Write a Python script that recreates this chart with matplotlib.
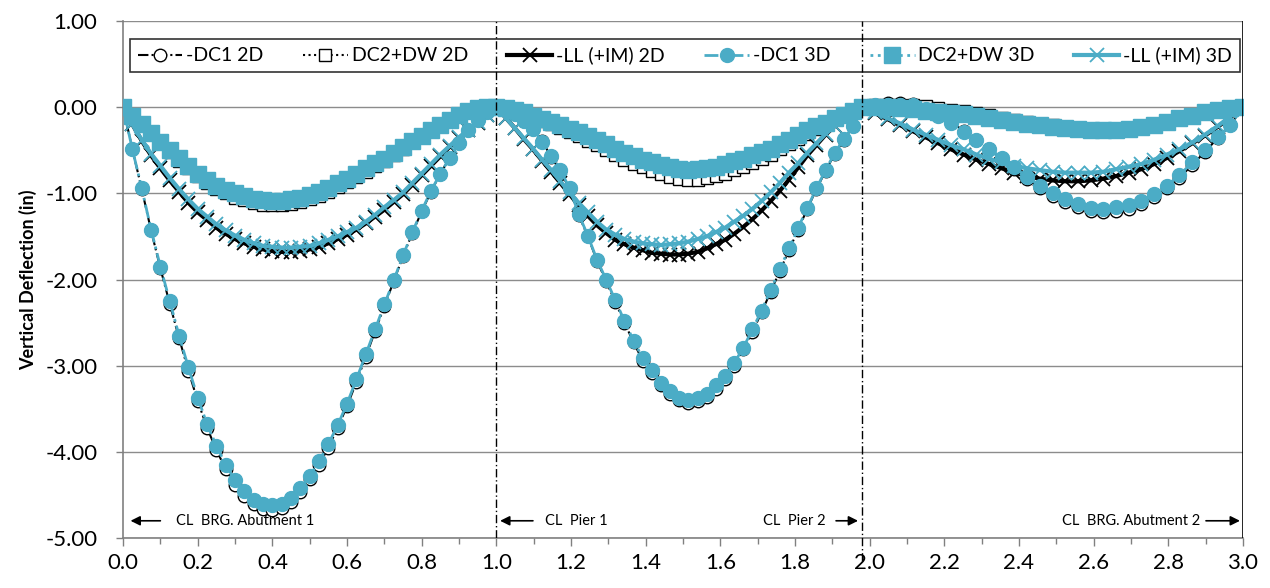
import numpy as np
import matplotlib
matplotlib.use("Agg")
import matplotlib.pyplot as plt

plt.rcParams['font.family'] = ['Lato', 'DejaVu Sans']

TEAL = "#4BACC6"

# stations along the bridge (normalized span length)
x_span1 = np.linspace(0.0, 1.0, 41)
x_span2 = np.linspace(1.0, 1.98, 41)[1:]
x_span3 = np.linspace(1.98, 3.0, 31)[1:]
x_sta = np.concatenate([x_span1, x_span2, x_span3])

# DC1 deflection (in)
dc1_2d = ([0, -0.49, -0.95, -1.43, -1.87, -2.28, -2.68, -3.06, -3.41, -3.72, -3.98, -4.20, -4.38, -4.51,
           -4.61, -4.66, -4.67, -4.65, -4.58, -4.47, -4.32, -4.15, -3.95, -3.72, -3.47, -3.19, -2.90,
           -2.60, -2.31, -2.02, -1.73, -1.46, -1.21, -0.98, -0.77, -0.59, -0.42, -0.27, -0.15, -0.06, 0]
          + [-0.03, -0.08, -0.16, -0.25, -0.39, -0.58, -0.74, -0.95, -1.25, -1.50, -1.78, -2.02, -2.26,
             -2.50, -2.73, -2.94, -3.08, -3.23, -3.33, -3.40, -3.43, -3.41, -3.36, -3.27, -3.15, -3.00,
             -2.81, -2.61, -2.38, -2.14, -1.90, -1.66, -1.42, -1.18, -0.95, -0.74, -0.54, -0.38, -0.22, 0.0]
          + [0.03, 0.05, 0.05, 0.04, 0.00, -0.08, -0.17, -0.28, -0.38, -0.49, -0.60, -0.72, -0.83, -0.94,
             -1.03, -1.10, -1.16, -1.20, -1.22, -1.21, -1.18, -1.12, -1.04, -0.94, -0.82, -0.67, -0.52,
             -0.36, -0.21, 0.0])
dc1_3d = ([0, -0.49, -0.94, -1.42, -1.85, -2.25, -2.65, -3.02, -3.37, -3.68, -3.93, -4.15, -4.33, -4.46,
           -4.56, -4.61, -4.62, -4.60, -4.53, -4.42, -4.28, -4.11, -3.91, -3.69, -3.44, -3.16, -2.87,
           -2.58, -2.29, -2.01, -1.72, -1.45, -1.20, -0.97, -0.77, -0.59, -0.42, -0.27, -0.15, -0.06, 0]
          + [-0.03, -0.08, -0.16, -0.25, -0.40, -0.57, -0.73, -0.94, -1.24, -1.49, -1.77, -2.00, -2.24,
             -2.48, -2.71, -2.91, -3.05, -3.20, -3.29, -3.37, -3.40, -3.38, -3.33, -3.23, -3.12, -2.97,
             -2.79, -2.58, -2.36, -2.12, -1.88, -1.64, -1.40, -1.17, -0.94, -0.73, -0.53, -0.37, -0.22, 0.0]
          + [0.02, 0.03, 0.03, 0.02, -0.02, -0.10, -0.18, -0.29, -0.38, -0.48, -0.59, -0.70, -0.81, -0.91,
             -1.00, -1.07, -1.12, -1.17, -1.18, -1.16, -1.14, -1.09, -1.01, -0.91, -0.79, -0.64, -0.50,
             -0.35, -0.21, 0.0])

# DC2+DW deflection (in)
dc2_2d = ([0, -0.10, -0.21, -0.31, -0.42, -0.52, -0.62, -0.71, -0.80, -0.88, -0.95, -1.00, -1.05, -1.08,
           -1.11, -1.13, -1.14, -1.14, -1.12, -1.10, -1.07, -1.03, -0.98, -0.93, -0.87, -0.81, -0.75,
           -0.68, -0.62, -0.55, -0.48, -0.41, -0.34, -0.28, -0.22, -0.16, -0.10, -0.05, -0.02, 0.0, 0.0]
          + [-0.01, -0.03, -0.07, -0.11, -0.16, -0.20, -0.24, -0.29, -0.34, -0.39, -0.44, -0.50, -0.56,
             -0.61, -0.66, -0.70, -0.74, -0.78, -0.81, -0.83, -0.84, -0.84, -0.82, -0.80, -0.77, -0.73,
             -0.69, -0.65, -0.60, -0.55, -0.49, -0.43, -0.37, -0.31, -0.25, -0.20, -0.14, -0.09, -0.04, 0.0]
          + [0.02, 0.03, 0.03, 0.02, 0.01, -0.01, -0.03, -0.05, -0.07, -0.09, -0.12, -0.15, -0.17, -0.19,
             -0.21, -0.23, -0.24, -0.25, -0.25, -0.25, -0.24, -0.22, -0.20, -0.17, -0.13, -0.10, -0.06,
             -0.03, -0.01, 0.0])
dc2_3d = ([0, -0.10, -0.20, -0.30, -0.40, -0.50, -0.59, -0.68, -0.77, -0.84, -0.91, -0.96, -1.00, -1.03,
           -1.06, -1.08, -1.09, -1.09, -1.07, -1.05, -1.02, -0.98, -0.94, -0.88, -0.83, -0.77, -0.71,
           -0.65, -0.60, -0.53, -0.46, -0.39, -0.33, -0.27, -0.21, -0.15, -0.09, -0.04, -0.01, 0.0, 0.0]
          + [-0.01, -0.03, -0.06, -0.10, -0.14, -0.17, -0.21, -0.25, -0.29, -0.33, -0.38, -0.43, -0.48,
             -0.53, -0.57, -0.61, -0.64, -0.67, -0.70, -0.72, -0.73, -0.72, -0.71, -0.69, -0.66, -0.63,
             -0.60, -0.56, -0.52, -0.48, -0.43, -0.38, -0.32, -0.27, -0.22, -0.18, -0.13, -0.09, -0.04, 0.0]
          + [0.0, 0.0, -0.01, -0.02, -0.04, -0.06, -0.07, -0.08, -0.10, -0.12, -0.15, -0.17, -0.19, -0.21,
             -0.23, -0.24, -0.25, -0.26, -0.26, -0.26, -0.25, -0.23, -0.21, -0.17, -0.13, -0.10, -0.06,
             -0.03, -0.01, 0.0])

# LL (+IM) deflection (in)
ll_2d = ([0, -0.20, -0.39, -0.56, -0.71, -0.85, -0.98, -1.11, -1.22, -1.31, -1.40, -1.47, -1.53, -1.58,
          -1.62, -1.65, -1.67, -1.68, -1.68, -1.67, -1.65, -1.62, -1.58, -1.53, -1.48, -1.42, -1.35,
          -1.27, -1.19, -1.10, -1.01, -0.90, -0.79, -0.68, -0.57, -0.46, -0.36, -0.27, -0.18, -0.09, 0]
         + [-0.12, -0.24, -0.37, -0.49, -0.62, -0.75, -0.88, -1.01, -1.14, -1.26, -1.37, -1.46, -1.54,
            -1.59, -1.63, -1.66, -1.69, -1.70, -1.71, -1.71, -1.70, -1.68, -1.64, -1.59, -1.54, -1.47,
            -1.39, -1.30, -1.20, -1.09, -0.97, -0.84, -0.70, -0.56, -0.44, -0.32, -0.22, -0.13, -0.06, 0]
         + [-0.07, -0.14, -0.21, -0.28, -0.35, -0.42, -0.49, -0.55, -0.61, -0.66, -0.71, -0.76, -0.80,
            -0.83, -0.85, -0.86, -0.86, -0.85, -0.83, -0.80, -0.76, -0.72, -0.66, -0.59, -0.51, -0.42,
            -0.33, -0.23, -0.12, 0])
ll_3d = ([0, -0.20, -0.38, -0.54, -0.68, -0.82, -0.95, -1.07, -1.18, -1.27, -1.36, -1.43, -1.49, -1.54,
          -1.58, -1.61, -1.62, -1.63, -1.63, -1.62, -1.61, -1.58, -1.54, -1.50, -1.45, -1.40, -1.33,
          -1.25, -1.16, -1.08, -0.99, -0.88, -0.77, -0.66, -0.55, -0.45, -0.35, -0.26, -0.17, -0.09, 0]
         + [-0.12, -0.24, -0.36, -0.48, -0.61, -0.73, -0.86, -0.99, -1.11, -1.22, -1.33, -1.42, -1.48,
            -1.53, -1.56, -1.58, -1.59, -1.60, -1.59, -1.58, -1.56, -1.53, -1.50, -1.45, -1.40, -1.33,
            -1.26, -1.18, -1.09, -0.99, -0.88, -0.76, -0.65, -0.53, -0.42, -0.31, -0.22, -0.14, -0.06, 0]
         + [-0.06, -0.13, -0.19, -0.26, -0.32, -0.38, -0.44, -0.49, -0.55, -0.60, -0.64, -0.68, -0.71,
            -0.73, -0.75, -0.76, -0.76, -0.76, -0.75, -0.72, -0.69, -0.66, -0.61, -0.55, -0.49, -0.41,
            -0.32, -0.22, -0.11, 0])

supports = [1.0, 1.98]

fig = plt.figure(figsize=(12.7, 5.88), dpi=100)
ax = fig.add_axes([0.0969, 0.085, 0.8818, 0.8793])

dashdot = (0, (5, 1.5, 1, 1.5))
ax.plot(x_sta, dc1_2d, color="black", lw=1.5, ls=dashdot, marker="o", ms=9,
        mfc="white", mec="black", mew=1.0, label="-DC1 2D", zorder=3)
ax.plot(x_sta, dc2_2d, color="black", lw=1.5, ls=":", marker="s", ms=8.5,
        mfc="white", mec="black", mew=1.0, label="DC2+DW 2D", zorder=3)
ax.plot(x_sta, ll_2d, color="black", lw=3, ls="-", marker="x", ms=10,
        mec="black", mew=1.3, label="-LL (+IM) 2D", zorder=3)
ax.plot(x_sta, dc1_3d, color=TEAL, lw=2, ls=dashdot, marker="o", ms=10,
        mfc=TEAL, mec=TEAL, label="-DC1 3D", zorder=5)
ax.plot(x_sta, dc2_3d, color=TEAL, lw=2, ls=":", marker="s", ms=11,
        mfc=TEAL, mec=TEAL, label="DC2+DW 3D", zorder=6)
ax.plot(x_sta, ll_3d, color=TEAL, lw=3, ls="-", marker="x", ms=10,
        mec=TEAL, mew=1.3, label="-LL (+IM) 3D", zorder=4)

ax.set_xlim(0, 3.0)
ax.set_ylim(-5.0, 1.0)
ax.set_xticks(np.arange(0, 3.01, 0.2))
ax.set_xticks(np.arange(0, 3.01, 0.1), minor=True)
ax.set_xticklabels([f"{v:.1f}" for v in np.arange(0, 3.01, 0.2)])
ax.set_yticks(np.arange(-5, 1.01, 1))
ax.set_yticklabels([f"{v:.2f}" for v in np.arange(-5, 1.01, 1)])
ax.tick_params(axis="both", labelsize=16, colors="#808080", labelcolor="black")
ax.tick_params(axis="x", which="major", length=6, width=1, pad=5)
ax.tick_params(axis="x", which="minor", length=4, width=1, color="#808080")
ax.tick_params(axis="y", length=5, width=1, pad=13.5)

ax.grid(axis="y", color="#8c8c8c", lw=1)
for s in ["top", "right"]:
    ax.spines[s].set_visible(False)
for s in ["left", "bottom"]:
    ax.spines[s].set_color("#808080")
    ax.spines[s].set_linewidth(1.2)
ax.axvline(3.0, color="black", lw=1.2, zorder=7)

ax.set_ylabel("Vertical Deflection (in)", fontsize=13, fontweight="bold", labelpad=6)

# support centerlines
ax.plot([supports[0]] * 2, [-5.0, 1.0], color="black", lw=1, ls=(0, (6, 2, 1, 2)), zorder=8)
ax.plot([supports[1]] * 2, [-5.27, 1.0], color="black", lw=1, ls=(0, (6, 2, 1, 2)),
        zorder=8, clip_on=False)

ya = -4.80
fs_note = 10.5
arrow = dict(arrowstyle="-|>", color="black", lw=1.2, mutation_scale=14, shrinkA=0, shrinkB=0)
ax.annotate("", xy=(0.02, ya), xytext=(0.10, ya), arrowprops=arrow)
ax.text(0.142, ya, "CL  BRG. Abutment 1", fontsize=fs_note, va="center", ha="left")
ax.annotate("", xy=(1.01, ya), xytext=(1.098, ya), arrowprops=arrow)
ax.text(1.13, ya, "CL  Pier 1", fontsize=fs_note, va="center", ha="left")
ax.text(1.883, ya, "CL  Pier 2", fontsize=fs_note, va="center", ha="right")
ax.annotate("", xy=(1.969, ya), xytext=(1.91, ya), arrowprops=arrow)
ax.text(2.886, ya, "CL  BRG. Abutment 2", fontsize=fs_note, va="center", ha="right")
ax.annotate("", xy=(2.992, ya), xytext=(2.901, ya), arrowprops=arrow)

leg = ax.legend(loc="lower left", bbox_to_anchor=(0.006, 0.901, 0.991, 0.097), mode="expand",
                ncol=6, fontsize=14, numpoints=1, handlelength=2.3, frameon=True,
                fancybox=False, borderaxespad=0, columnspacing=1.0, handletextpad=0.2)
leg.get_frame().set_edgecolor("black")
leg.get_frame().set_linewidth(1.2)
leg.set_zorder(7)

fig.savefig("out.png", dpi=100)
